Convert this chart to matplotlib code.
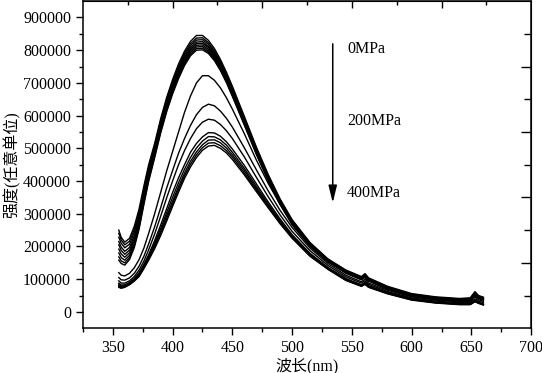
import matplotlib
matplotlib.use('Agg')
import matplotlib.pyplot as plt
from matplotlib.ticker import MultipleLocator, FixedLocator

plt.rcParams['font.family'] = ['Liberation Serif', 'Noto Sans CJK SC']
plt.rcParams['font.size'] = 11.5

# wavelength grid (nm)
wavelength = [355, 357, 360, 364, 368, 372, 376, 380, 385, 390, 395, 400, 405, 410,
              415, 420, 425, 430, 435, 440, 445, 450, 460, 470, 480, 490, 500, 515,
              530, 545, 558, 561, 564, 580, 600, 620, 640, 649, 653, 656, 660]

# intensities in thousands (0MPa at top -> 400MPa at bottom)
c01 = [250, 228, 213, 225, 262, 315, 385, 450, 515, 590, 655, 710, 758, 797, 827, 845, 845, 830, 805, 772, 733, 690, 598, 505, 420, 345, 282, 212, 162, 128, 108, 117, 104, 78, 56, 46, 41, 43, 62, 50, 45]
c02 = [240, 220, 205, 216, 252, 305, 375, 442, 508, 583, 648, 703, 750, 790, 820, 837, 838, 823, 798, 766, 727, 684, 593, 500, 415, 341, 279, 210, 160, 126, 106, 114, 102, 76, 54, 44, 39, 41, 58, 48, 43]
c03 = [228, 210, 196, 207, 243, 296, 367, 435, 502, 577, 642, 697, 744, 784, 814, 831, 832, 818, 793, 761, 722, 680, 590, 498, 413, 340, 278, 209, 159, 125, 105, 113, 101, 75, 54, 44, 39, 40, 57, 47, 42]
c04 = [215, 198, 185, 197, 233, 287, 358, 428, 496, 571, 636, 691, 738, 778, 808, 825, 826, 812, 788, 756, 718, 676, 586, 495, 411, 338, 276, 208, 158, 124, 104, 112, 100, 74, 53, 43, 38, 39, 55, 46, 41]
c05 = [205, 188, 176, 189, 225, 280, 352, 422, 491, 566, 631, 686, 733, 773, 803, 820, 821, 808, 784, 752, 714, 672, 583, 492, 409, 336, 274, 206, 157, 123, 103, 111, 99, 73, 52, 42, 37, 38, 54, 45, 40]
c06 = [192, 177, 167, 181, 218, 273, 346, 416, 486, 561, 626, 681, 728, 768, 798, 815, 816, 803, 780, 748, 710, 668, 580, 490, 407, 334, 272, 205, 156, 122, 102, 110, 98, 72, 51, 41, 36, 37, 53, 44, 39]
c07 = [180, 166, 158, 173, 210, 266, 340, 410, 481, 556, 621, 676, 723, 763, 793, 810, 811, 798, 776, 745, 707, 665, 577, 487, 405, 332, 270, 203, 155, 121, 101, 109, 97, 71, 50, 40, 35, 36, 51, 43, 38]
c08 = [168, 156, 150, 166, 203, 259, 334, 404, 476, 551, 616, 671, 718, 758, 788, 805, 806, 794, 772, 741, 704, 662, 574, 485, 403, 330, 268, 202, 154, 120, 100, 108, 96, 70, 49, 39, 34, 35, 50, 42, 37]
c09 = [158, 148, 143, 160, 197, 253, 328, 399, 471, 546, 611, 666, 713, 753, 783, 800, 801, 790, 768, 738, 701, 659, 571, 482, 400, 328, 266, 200, 153, 119, 99, 107, 95, 69, 48, 38, 33, 34, 49, 41, 36]
c10 = [120, 112, 110, 118, 135, 160, 195, 240, 300, 365, 430, 490, 550, 610, 660, 700, 722, 722, 708, 685, 655, 620, 545, 465, 393, 328, 272, 205, 155, 118, 98, 106, 94, 70, 50, 40, 35, 36, 52, 42, 37]
c11 = [105, 98, 97, 104, 118, 140, 170, 208, 260, 318, 378, 432, 485, 530, 570, 603, 625, 635, 630, 614, 592, 565, 502, 435, 370, 310, 258, 195, 148, 112, 92, 100, 88, 66, 46, 36, 31, 32, 46, 37, 32]
c12 = [95, 88, 88, 95, 108, 128, 155, 190, 238, 292, 348, 400, 450, 493, 530, 560, 580, 589, 586, 573, 554, 530, 474, 412, 352, 296, 246, 187, 142, 107, 88, 95, 84, 62, 43, 33, 28, 28, 40, 33, 28]
c13 = [88, 82, 83, 90, 102, 120, 145, 175, 218, 265, 315, 365, 410, 450, 488, 515, 535, 548, 547, 537, 520, 498, 448, 392, 336, 284, 236, 179, 136, 102, 83, 90, 80, 59, 40, 30, 25, 25, 36, 29, 24]
c14 = [84, 79, 80, 87, 99, 116, 140, 170, 210, 255, 303, 350, 395, 436, 472, 501, 522, 536, 535, 526, 510, 488, 439, 384, 330, 279, 232, 176, 134, 100, 81, 88, 78, 58, 39, 29, 24, 24, 34, 28, 23]
c15 = [80, 76, 78, 85, 97, 113, 137, 166, 204, 247, 293, 338, 383, 424, 460, 489, 511, 525, 526, 517, 501, 480, 432, 378, 325, 275, 229, 173, 132, 98, 80, 86, 77, 57, 38, 29, 24, 24, 33, 27, 22]
c16 = [78, 74, 77, 84, 96, 111, 135, 162, 199, 240, 285, 330, 374, 416, 451, 480, 502, 516, 517, 508, 493, 473, 425, 373, 321, 272, 227, 171, 131, 97, 79, 85, 76, 56, 37, 28, 23, 23, 32, 27, 22]
c17 = [75, 72, 75, 83, 94, 108, 132, 158, 193, 233, 277, 322, 366, 408, 443, 472, 494, 507, 509, 500, 486, 466, 419, 368, 318, 269, 225, 170, 130, 96, 78, 84, 75, 55, 36, 27, 22, 22, 31, 26, 21]
curves = [c01, c02, c03, c04, c05, c06, c07, c08, c09, c10, c11, c12, c13, c14, c15, c16, c17]

pressure_labels = ['0MPa', '200MPa', '400MPa']

fig = plt.figure(figsize=(5.42, 3.73), dpi=100)
ax = fig.add_axes([0.153, 0.120, 0.827, 0.877])

for c in curves:
    ax.plot(wavelength, [v * 1000 for v in c], color='black', lw=1.0)

ax.set_xlim(325, 700)
ax.set_ylim(-50000, 950000)
ax.xaxis.set_major_locator(MultipleLocator(50))
ax.xaxis.set_minor_locator(MultipleLocator(25))
ax.yaxis.set_major_locator(FixedLocator(range(0, 900001, 100000)))
ax.yaxis.set_minor_locator(FixedLocator(range(50000, 950000, 100000)))
ax.tick_params(which='major', direction='out', length=5, width=1, labelsize=11.5)
ax.tick_params(which='minor', direction='out', length=3, width=1)
ax.tick_params(top=False, right=False)
for s in ax.spines.values():
    s.set_linewidth(1.1)

# mirrored axes with their own tick positions
top = ax.secondary_xaxis('top')
top.xaxis.set_major_locator(FixedLocator([400, 475, 550, 625]))
top.xaxis.set_minor_locator(FixedLocator([362.5, 437.5, 512.5, 587.5, 662.5]))
top.tick_params(which='major', direction='in', length=5, width=1, labeltop=False)
top.tick_params(which='minor', direction='in', length=3, width=1)
right = ax.secondary_yaxis('right')
right.yaxis.set_major_locator(FixedLocator([150000, 350000, 550000, 750000]))
right.yaxis.set_minor_locator(FixedLocator([50000, 250000, 450000, 650000, 850000]))
right.tick_params(which='major', direction='in', length=7, width=1, labelright=False)
right.tick_params(which='minor', direction='in', length=5, width=1)

ax.set_xlabel('波长(nm)', fontsize=11.5, labelpad=1)
ax.set_ylabel('强度(任意单位)', fontsize=11.5, labelpad=2)

ax.annotate('', xy=(534, 325000), xytext=(534, 828000),
            arrowprops=dict(arrowstyle='-|>,head_length=0.9,head_width=0.22',
                            color='black', lw=1.1))
for lab, yv in zip(pressure_labels, [805000, 585000, 363000]):
    ax.text(546, yv, lab, fontsize=11.5, va='center', ha='left')

fig.savefig('out.png', dpi=100)
